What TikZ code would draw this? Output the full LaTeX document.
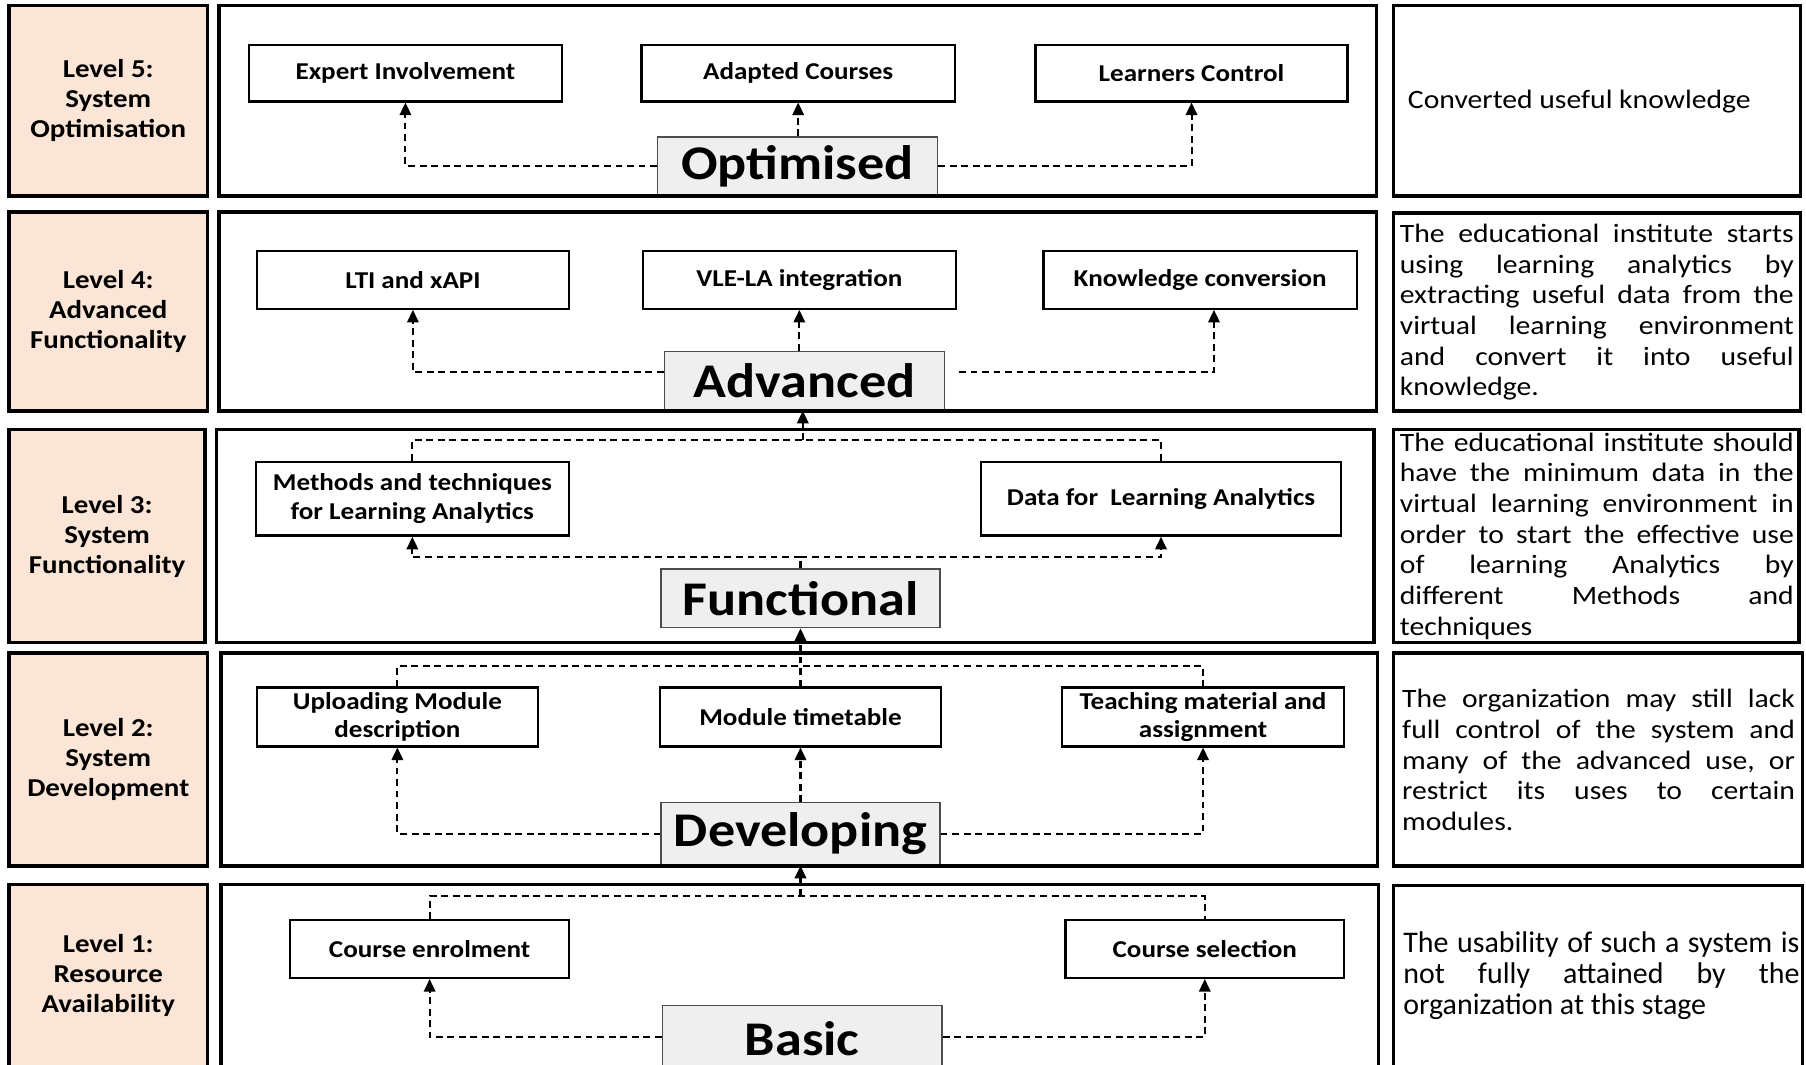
\documentclass[tikz,border=0pt]{standalone}
\usepackage{fontspec}
\setmainfont{Carlito}[FakeStretch=1.12]
\newfontfamily\plainfont{Carlito}
\usetikzlibrary{arrows.meta,calc}
\definecolor{peach}{HTML}{FBE5D6}
\definecolor{tagfill}{HTML}{EFEFEF}
% one justified line of fixed width
\newcommand\jl[2]{\hbox to #1{\frenchspacing\spaceskip=0.226em plus 1fil\relax #2}}
% rectangle node from two corners: style, name, x1, y1, x2, y2, text
\newcommand\bx[7]{%
  \pgfmathsetmacro\bxw{abs(#5-#3)*0.5}%
  \pgfmathsetmacro\bxh{abs(#6-#4)*0.5}%
  \node[#1, minimum width=\bxw pt, minimum height=\bxh pt]
    (#2) at ({(#3+#5)/2},{(#4+#6)/2}) {#7};}

\begin{document}
\begin{tikzpicture}[x=0.5pt,y=-0.5pt,
  levelbox/.style={draw, line width=1.5pt, fill=peach, inner sep=0pt,
    font=\bfseries\fontsize{11.2}{13}\selectfont, align=center},
  frame/.style={draw, line width=1.5pt, inner sep=0pt},
  itembox/.style={draw, line width=1pt, fill=white, inner sep=0pt,
    font=\bfseries\fontsize{10.5}{12.3}\selectfont, align=center},
  tagbox/.style={draw=black!70, line width=0.6pt, fill=tagfill, inner sep=0pt,
    font=\bfseries\fontsize{21}{24}\selectfont},
  link/.style={dash pattern=on 3pt off 2pt, line width=0.9pt},
  uplink/.style={link, -{Triangle[length=5.5pt,width=5pt]}},
  desc/.style={inner sep=0pt, anchor=west, align=left,
    font=\fontsize{11.5}{13.3}\selectfont}
]
\useasboundingbox (0,0) rectangle (1568,924);
\fill[white] (0,0) rectangle (1568,924);
\clip (0,0) rectangle (1568,924);

% ---------- level labels ----------
\bx{levelbox}{l5}{8}{5}{180}{170}{Level 5:\\System\\Optimisation}
\bx{levelbox}{l4}{8}{184}{180}{357}{Level 4:\\Advanced\\Functionality}
\bx{levelbox}{l3}{8}{373}{178}{558}{Level 3:\\System\\Functionality}
\bx{levelbox}{l2}{8}{567}{180}{752}{Level 2:\\System\\Development}
\bx{levelbox}{l1}{8}{768}{180}{926}{Level 1:\\Resource\\Availability}

% ---------- description boxes ----------
\bx{frame}{r5}{1210}{5}{1563}{170}{}
\bx{frame}{r4}{1210}{185}{1563}{357}{}
\bx{frame}{r3}{1210}{373}{1562}{558}{}
\bx{frame}{r2}{1210}{567}{1565}{752}{}
\bx{frame}{r1}{1210}{769}{1565}{928}{}

\node[desc] (d5) at (1222,88) {Converted useful knowledge};
\node[desc] (d4) at (1215,271) {%
  \jl{171pt}{The educational institute starts}\\
  \jl{171pt}{using learning analytics by}\\
  \jl{171pt}{extracting useful data from the}\\
  \jl{171pt}{virtual learning environment}\\
  \jl{171pt}{and convert it into useful}\\
  knowledge.};
\node[desc] (d3) at (1215,465.5) {%
  \jl{171pt}{The educational institute should}\\
  \jl{171pt}{have the minimum data in the}\\
  \jl{171pt}{virtual learning environment in}\\
  \jl{171pt}{order to start the effective use}\\
  \jl{171pt}{of learning Analytics by}\\
  \jl{171pt}{different Methods and}\\
  techniques};
\node[desc] (d2) at (1217,660) {%
  \jl{170.5pt}{The organization may still lack}\\
  \jl{170.5pt}{full control of the system and}\\
  \jl{170.5pt}{many of the advanced use, or}\\
  \jl{170.5pt}{restrict its uses to certain}\\
  modules.};
\node[desc, font=\plainfont\fontsize{13}{13.5}\selectfont] (d1) at (1218,847) {%
  \jl{172pt}{The usability of such a system is}\\
  \jl{172pt}{not fully attained by the}\\
  organization at this stage};

% ---------- items ----------
\bx{itembox}{ei}{216}{39}{488}{88}{Expert Involvement}
\bx{itembox}{ac}{557}{39}{829}{88}{Adapted Courses}
\bx{itembox}{lc}{899}{39}{1170}{88}{Learners Control}
\bx{itembox}{lti}{223}{218}{494}{268}{LTI and xAPI}
\bx{itembox}{vle}{558}{218}{830}{268}{VLE-LA integration}
\bx{itembox}{kc}{906}{218}{1178}{268}{Knowledge conversion}
\bx{itembox}{mla}{222}{401}{494}{465}{Methods and techniques\\for Learning Analytics}
\bx{itembox}{dla}{852}{401}{1164}{465}{Data for\ \ Learning Analytics}
\bx{itembox}{umd}{223}{597}{467}{648}{Uploading Module\\description}
\bx{itembox}{mtt}{573}{597}{817}{648}{Module timetable}
\bx{itembox}{tma}{922}{597}{1167}{648}{Teaching material and\\assignment}
\bx{itembox}{ce}{252}{799}{494}{849}{Course enrolment}
\bx{itembox}{cs}{925}{799}{1167}{849}{Course selection}

% ---------- stage tags ----------
\bx{tagbox}{opt}{571}{119}{814}{169}{Optimised}
\bx{tagbox}{adv}{577}{305}{820}{356}{Advanced}
\bx{tagbox}{fun}{574}{494}{816}{545}{Functional}
\bx{tagbox}{dev}{574}{697}{816}{751}{Developing}
\bx{tagbox}{bas}{575}{873}{818}{930}{Basic}

% ---------- stage frames ----------
\bx{frame}{s5}{190}{5}{1195}{170}{}
\bx{frame}{s4}{190}{184}{1195}{357}{}
\bx{frame}{s3}{188}{373}{1193}{558}{}
\bx{frame}{s2}{192}{567}{1196}{752}{}
\bx{frame}{s1}{192}{768}{1197}{928}{}

% ---------- junction points ----------
\coordinate (t3) at (697,382);
\coordinate (b3) at (695,484);
\coordinate (t2) at (695,578);
\coordinate (t1) at (695,778);

% ---------- level 5 ----------
\draw[uplink] (opt.west) -| (ei.south);
\draw[uplink] (opt.north -| ac.south) -- (ac.south);
\draw[uplink] (opt.east) -| (lc.south);

% ---------- level 4 ----------
\draw[uplink] ([yshift=3.75pt]adv.west) -| (lti.south);
\draw[uplink] (vle.south |- adv.north) -- (vle.south);
\draw[uplink] ([xshift=6pt,yshift=3.75pt]adv.east) -| ([xshift=6pt]kc.south);

% ---------- level 3 ----------
\draw[link] (mla.north) |- (t3) -| (dla.north);
\draw[uplink] (t3) -- (t3 |- adv.south);
\draw[link] (fun.north) -- (b3);
\draw[uplink] (b3) -| (mla.south);
\draw[uplink] (b3) -| (dla.south);

% ---------- level 2 ----------
\draw[link] (umd.north) |- (t2) -| (tma.north);
\draw[uplink] (mtt.north) -- (fun.south);
\draw[uplink] (dev.west) -| (umd.south);
\draw[uplink] (dev.north) -- (mtt.south);
\draw[uplink] (dev.east) -| (tma.south);

% ---------- level 1 ----------
\draw[link] (ce.north) |- (t1) -| (cs.north);
\draw[uplink] (t1) -- (t1 |- dev.south);
\draw[uplink] ([yshift=0.5pt]bas.west) -| (ce.south);
\draw[uplink] ([yshift=0.5pt]bas.east) -| (cs.south);
\end{tikzpicture}
\end{document}
